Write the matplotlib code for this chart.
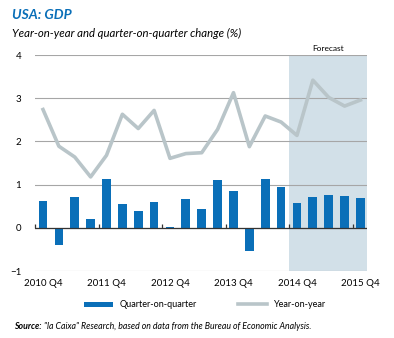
import numpy as np
import matplotlib
matplotlib.use('Agg')
import matplotlib.pyplot as plt

# data (% change, 2010 Q4 .. 2015 Q4)
quarters = ['2010 Q4', '2011 Q1', '2011 Q2', '2011 Q3', '2011 Q4',
            '2012 Q1', '2012 Q2', '2012 Q3', '2012 Q4',
            '2013 Q1', '2013 Q2', '2013 Q3', '2013 Q4',
            '2014 Q1', '2014 Q2', '2014 Q3', '2014 Q4',
            '2015 Q1', '2015 Q2', '2015 Q3', '2015 Q4']
qoq = [0.62, -0.40, 0.72, 0.20, 1.12, 0.55, 0.39, 0.60, 0.01, 0.66, 0.43,
       1.10, 0.86, -0.53, 1.13, 0.95, 0.57, 0.71, 0.76, 0.73, 0.70]
yoy = [2.74, 1.89, 1.64, 1.18, 1.68, 2.63, 2.30, 2.72, 1.61, 1.72, 1.74,
       2.28, 3.13, 1.88, 2.59, 2.45, 2.14, 3.42, 3.02, 2.82, 2.96]
forecast_start = '2014 Q4'
label_quarters = ['2010 Q4', '2011 Q4', '2012 Q4', '2013 Q4', '2014 Q4', '2015 Q4']

blue = '#0a6fb8'
grey = '#b9c5c9'
shade = '#d2e0e8'

plt.rcParams['font.family'] = ['Lato', 'DejaVu Sans']

fig = plt.figure(figsize=(3.94, 3.38), dpi=100)
ax = fig.add_axes([0.089, 0.198, 0.842, 0.639])

x = np.arange(len(quarters))
fs = quarters.index(forecast_start)
x_end = len(quarters) - 0.6
ax.axvspan(fs - 0.5, x_end, color=shade, lw=0, zorder=0)

for v in range(-1, 5):
    ax.axhline(v, color='#a6a6a6', lw=0.8, zorder=1)
ax.axhline(0, color='#333333', lw=0.9, zorder=3)

bars = ax.bar(x, qoq, width=0.55, color=blue, zorder=2)
line, = ax.plot(x, yoy, color=grey, lw=2.6, zorder=4)

ax.set_xlim(-0.5, x_end)
ax.set_ylim(-1, 4)
ax.set_yticks(range(-1, 5))
ax.tick_params(axis='y', length=0, labelsize=7, pad=10)
ax.set_xticks([quarters.index(q) for q in label_quarters])
ax.set_xticklabels(label_quarters)
ax.tick_params(axis='x', length=0, labelsize=7, pad=6)
for s in ax.spines.values():
    s.set_visible(False)

# small marks on the zero line between years
sec = ax.secondary_xaxis(0.2)
sec.set_xticks(np.arange(-0.5, len(quarters), 4))
sec.tick_params(axis='x', direction='in', length=3, width=0.9, color='#333333', labelbottom=False)
sec.spines['bottom'].set_visible(False)

ax.text((fs - 0.5 + x_end) / 2, 4.08, 'Forecast', ha='center', va='bottom', fontsize=6)

fig.text(0.03, 0.955, 'USA: GDP', color=blue, fontsize=10, fontweight='bold', style='italic', va='center')
fig.text(0.03, 0.9, 'Year-on-year and quarter-on-quarter change (%)', fontsize=8.2, style='italic', va='center')

fig.legend([bars, line], ['Quarter-on-quarter', 'Year-on-year'],
           loc='center', bbox_to_anchor=(0.52, 0.098), ncol=2, frameon=False, fontsize=6.5,
           handlelength=3.2, handleheight=0.5, columnspacing=4.5, handletextpad=0.8)

src = fig.text(0.035, 0.033, 'Source:', fontsize=6.3, fontweight='bold', style='italic', va='center')
ax.annotate('"la Caixa" Research, based on data from the Bureau of Economic Analysis.',
            xy=(1, 0.5), xycoords=src, xytext=(2, 0), textcoords='offset points',
            fontsize=6.3, style='italic', va='center', annotation_clip=False)

fig.savefig('out.png', dpi=100)
